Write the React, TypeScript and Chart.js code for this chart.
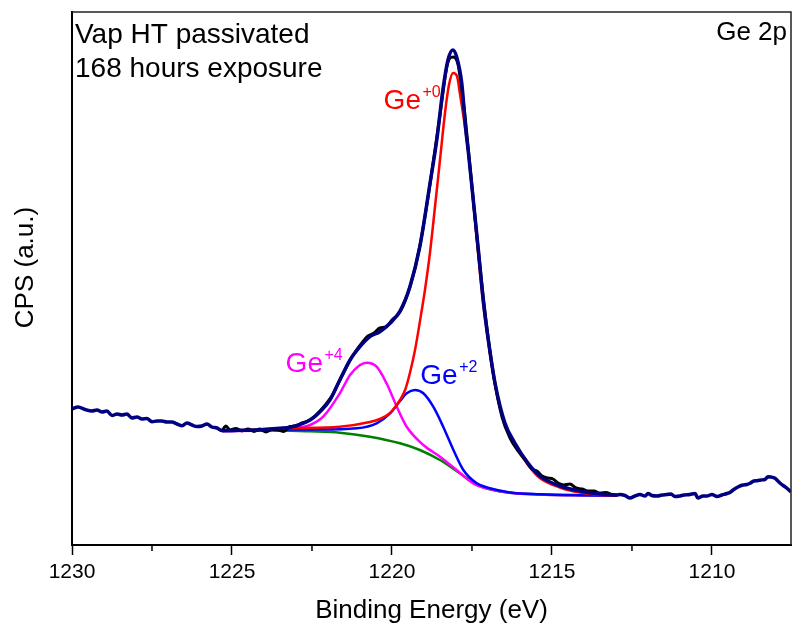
import React, { useEffect, useRef } from "react";
import { Chart, registerables } from "chart.js";

Chart.register(...registerables);

// ---- axis settings ----
const X_MIN = 1207.53;
const X_MAX = 1230;
const Y_MIN = 0;
const Y_MAX = 533;
const MAJOR_TICKS = [1230, 1225, 1220, 1215, 1210];
const MINOR_TICKS = [1227.5, 1222.5, 1217.5, 1212.5];

// ---- full spectrum / envelope (navy) ----
const NAVY_E = [
  1230.0, 1229.81, 1229.59, 1229.38, 1229.22, 1229.06, 1228.91, 1228.75, 1228.59, 1228.44,
  1228.28, 1228.13, 1227.97, 1227.81, 1227.66, 1227.5, 1227.34, 1227.19, 1227.03, 1226.88,
  1226.72, 1226.56, 1226.41, 1226.25, 1226.09, 1225.94, 1225.78, 1225.63, 1225.47,
  1225.31, 1224.75, 1224.13, 1223.5, 1223.19, 1222.56, 1222.25, 1221.94, 1221.63, 1221.31,
  1221.0, 1220.69, 1220.38, 1220.06, 1219.75, 1219.44, 1219.13, 1218.81, 1218.6, 1218.41,
  1218.25, 1218.1, 1217.98, 1217.82, 1217.69, 1217.62, 1217.46, 1217.3, 1217.15, 1216.99,
  1216.78, 1216.47, 1216.16, 1215.75, 1215.38, 1214.75, 1214.13, 1213.5, 1212.97,
  1212.88, 1212.72, 1212.56, 1212.41, 1212.25, 1212.09, 1212.0, 1211.88, 1211.72, 1211.56,
  1211.41, 1211.28, 1211.16, 1211.0, 1210.88, 1210.69, 1210.53, 1210.44, 1210.28, 1210.16,
  1210.0, 1209.84, 1209.69, 1209.53, 1209.44, 1209.34, 1209.19, 1209.03, 1208.91, 1208.81,
  1208.69, 1208.59, 1208.47, 1208.34, 1208.25, 1208.16, 1208.03, 1207.94, 1207.84, 1207.75,
  1207.63, 1207.53,
];
const NAVY_CPS = [
  136, 138, 135.5, 134, 135, 133, 134, 129.5, 131, 130,
  131, 127, 128, 126, 126.5, 123.3, 124, 124, 123, 123,
  121, 119.3, 122, 120, 118.5, 119, 121, 118, 117,
  114.5, 114.7, 115.3, 116.7, 117.7, 125, 133.3, 145, 165, 185,
  198.3, 208.3, 213.3, 221.7, 234, 258.3, 298.3, 362, 405, 455,
  485, 495, 488.3, 462, 414, 395, 345, 295, 245, 205,
  162, 122, 102, 82, 69, 59, 54, 51, 50,
  50.5, 49.5, 47, 49, 50.5, 49, 51.5, 49.5, 49, 50,
  50.5, 51, 48.5, 49, 50, 50.5, 51.5, 47, 49, 49,
  50.5, 48.5, 50, 51.5, 52.5, 55, 58, 60, 60.5, 61.7,
  64, 64.3, 65, 65.7, 68.3, 68, 66.7, 64, 61, 59,
  56, 53,
];

// ---- raw data in the fitted region (black) ----
const RAW_E = [
  1225.31, 1225.19, 1225.06, 1224.88, 1224.69, 1224.5, 1224.31, 1224.13, 1223.94, 1223.75,
  1223.56, 1223.38, 1223.19, 1223.0, 1222.81, 1222.63, 1222.44, 1222.25, 1222.06, 1221.88,
  1221.69, 1221.5, 1221.31, 1221.13, 1220.94, 1220.75, 1220.56, 1220.38, 1220.19, 1220.0,
  1219.75, 1219.44, 1219.13, 1218.81, 1218.5, 1218.25, 1218.09, 1217.94, 1217.75, 1217.56,
  1217.31, 1217.06, 1216.81, 1216.56, 1216.31, 1216.06, 1215.81, 1215.63, 1215.47, 1215.31,
  1215.13, 1214.97, 1214.81, 1214.63, 1214.44, 1214.25, 1214.06, 1213.88, 1213.69, 1213.5,
  1213.31, 1213.13, 1212.97,
];
const RAW_CPS = [
  114, 119, 115, 116.5, 114, 116, 113.5, 116, 113, 115.5,
  115, 113.5, 118.5, 119, 122, 124, 128, 134, 141, 149,
  161, 173, 185, 194, 202, 209, 212, 217, 218, 225,
  233, 258, 299, 361, 430, 483, 488, 481, 438, 378,
  297, 224, 167, 128, 107, 94, 84, 76, 74, 69,
  67, 66, 62, 60, 61, 57, 56, 54, 54, 52,
  52.5, 50.5, 50,
];

// ---- Ge+0 component (red) ----
const GE0_E = [
  1225.31, 1223.19, 1221.63, 1220.69, 1220.38, 1220.06, 1219.75, 1219.59, 1219.44, 1219.28,
  1219.13, 1218.97, 1218.81, 1218.66, 1218.5, 1218.34, 1218.22, 1218.09, 1217.97, 1217.88,
  1217.67, 1217.51, 1217.35, 1217.15, 1216.99, 1216.78, 1216.47, 1216.16, 1215.75, 1215.38,
  1214.75, 1214.13, 1213.5, 1212.97,
];
const GE0_CPS = [
  114, 116.7, 118.3, 123, 126, 132, 145, 155, 172, 195,
  223, 255, 293, 337, 385, 433, 460, 472, 469, 452,
  407, 362, 305, 242, 203, 160, 120, 100, 80, 67,
  57.5, 52.5, 50.3, 49.6,
];

// ---- Ge+2 component (blue) ----
const GE2_E = [
  1225.31, 1223.19, 1222.25, 1221.1, 1220.48, 1220.06, 1219.75, 1219.54, 1219.28, 1219.02,
  1218.71, 1218.4, 1218.08, 1217.77, 1217.35, 1216.94, 1216.31, 1215.38, 1214.13, 1212.97,
];
const GE2_CPS = [
  114, 115.5, 115.5, 116.7, 121.7, 131.7, 144, 151.7, 155, 151.7,
  138.3, 118.3, 95, 75, 61.7, 56.7, 52.5, 50.7, 49.8, 49.5,
];

// ---- Ge+4 component (magenta) ----
const GE4_E = [
  1225.31, 1224.13, 1223.19, 1222.56, 1222.15, 1221.63, 1221.31, 1221.0, 1220.79, 1220.48,
  1220.17, 1219.85, 1219.54, 1219.02, 1218.5, 1217.98, 1217.46, 1217.04, 1216.31, 1215.38,
  1212.97,
];
const GE4_CPS = [
  114, 114.5, 116.7, 120, 128.3, 151.7, 170, 180, 182.3, 178.3,
  161.7, 138.3, 118.3, 100, 88.3, 75, 61.7, 56.7, 52.3, 50.5,
  49.5,
];

// ---- background (green) ----
const BG_E = [
  1225.31, 1223.5, 1222.56, 1221.63, 1220.69, 1219.75, 1219.13, 1218.5, 1217.88, 1217.35,
  1216.94, 1216.31, 1215.38, 1214.13, 1212.97,
];
const BG_CPS = [
  114, 114.5, 113.7, 112.3, 108.3, 101.7, 95, 85, 71.7, 60,
  55.7, 52.3, 50.5, 49.7, 49.5,
];

const FONT = "'Liberation Sans', Arial, Helvetica, sans-serif";

const pts = (xs: number[], ys: number[]) => xs.map((x, i) => ({ x, y: ys[i] }));

const decorPlugin = {
  id: "decor",
  afterDraw(chart: any) {
    const { ctx, chartArea: a, scales } = chart;
    const xs = scales.x;
    ctx.save();
    // minor ticks
    ctx.strokeStyle = "#000";
    ctx.lineWidth = 1.5;
    MINOR_TICKS.forEach((v) => {
      const px = xs.getPixelForValue(v);
      ctx.beginPath();
      ctx.moveTo(px, a.bottom);
      ctx.lineTo(px, a.bottom + 6);
      ctx.stroke();
    });
    // top and right frame
    ctx.strokeStyle = "#222";
    ctx.lineWidth = 1.5;
    ctx.beginPath();
    ctx.moveTo(a.left, a.top);
    ctx.lineTo(a.right, a.top);
    ctx.lineTo(a.right, a.bottom);
    ctx.stroke();

    // texts
    ctx.fillStyle = "#000";
    ctx.textBaseline = "alphabetic";
    ctx.textAlign = "left";
    ctx.font = `28px ${FONT}`;
    ctx.fillText("Vap HT passivated", 75, 43);
    ctx.fillText("168 hours exposure", 75, 77);

    ctx.font = `26px ${FONT}`;
    ctx.textAlign = "right";
    ctx.fillText("Ge 2p", 787, 39.5);

    ctx.textAlign = "center";
    ctx.fillText("Binding Energy (eV)", (a.left + a.right) / 2, 618);
    ctx.save();
    ctx.translate(33, 267.5);
    ctx.rotate(-Math.PI / 2);
    ctx.fillText("CPS (a.u.)", 0, 0);
    ctx.restore();

    const ge = (sup: string, x: number, y: number, color: string) => {
      ctx.fillStyle = color;
      ctx.textAlign = "left";
      ctx.font = `28px ${FONT}`;
      ctx.fillText("Ge", x, y);
      const w = ctx.measureText("Ge").width;
      ctx.font = `16px ${FONT}`;
      ctx.fillText(sup, x + w + 1.5, y - 12);
    };
    ge("+0", 383.6, 109, "#FF0000");
    ge("+4", 285.6, 371.7, "#FF00FF");
    ge("+2", 420.3, 384, "#0000FF");
    ctx.restore();
  },
};

export default function App() {
  const ref = useRef<HTMLCanvasElement | null>(null);
  useEffect(() => {
    if (!ref.current) return;
    const line = (label: string, xs: number[], ys: number[], color: string, w: number) => ({
      label,
      data: pts(xs, ys),
      borderColor: color,
      backgroundColor: color,
      borderWidth: w,
      pointRadius: 0,
      fill: false,
      cubicInterpolationMode: "monotone" as const,
    });
    const chart = new Chart(ref.current, {
      type: "line",
      data: {
        datasets: [
          line("Envelope", NAVY_E, NAVY_CPS, "#000080", 3.5),
          line("Raw", RAW_E, RAW_CPS, "#000000", 3),
          line("Ge+0", GE0_E, GE0_CPS, "#FF0000", 2.5),
          line("Ge+2", GE2_E, GE2_CPS, "#0000FF", 2.5),
          line("Ge+4", GE4_E, GE4_CPS, "#FF00FF", 2.5),
          line("Background", BG_E, BG_CPS, "#008000", 2.5),
        ],
      },
      options: {
        animation: false,
        responsive: false,
        layout: { padding: { top: 12, right: 1, left: 0, bottom: 0 } },
        plugins: {
          legend: { display: false },
          tooltip: { enabled: false },
        },
        scales: {
          x: {
            type: "linear",
            reverse: true,
            min: X_MIN,
            max: X_MAX,
            position: "bottom",
            afterBuildTicks: (scale: any) => {
              scale.ticks = MAJOR_TICKS.map((v) => ({ value: v }));
            },
            afterFit: (scale: any) => {
              scale.height = 81;
            },
            ticks: {
              includeBounds: false,
              autoSkip: false,
              maxRotation: 0,
              padding: 5,
              color: "#000",
              font: { family: FONT, size: 21 },
              callback: (v: any) => String(v),
            },
            grid: {
              display: true,
              drawOnChartArea: false,
              drawTicks: true,
              tickLength: 10,
              tickWidth: 1.5,
              tickColor: "#000",
              color: "#000",
            },
            border: { display: true, color: "#000", width: 2 },
          },
          y: {
            type: "linear",
            min: Y_MIN,
            max: Y_MAX,
            afterFit: (scale: any) => {
              scale.width = 72;
            },
            ticks: { display: false },
            grid: { display: false },
            border: { display: true, color: "#000", width: 2 },
          },
        },
      },
      plugins: [decorPlugin],
    });
    return () => chart.destroy();
  }, []);
  return (
    <div style={{ position: "fixed", left: 0, top: 0, width: 792, height: 626, background: "#fff" }}>
      <canvas ref={ref} width={792} height={626} style={{ display: "block" }} />
    </div>
  );
}
